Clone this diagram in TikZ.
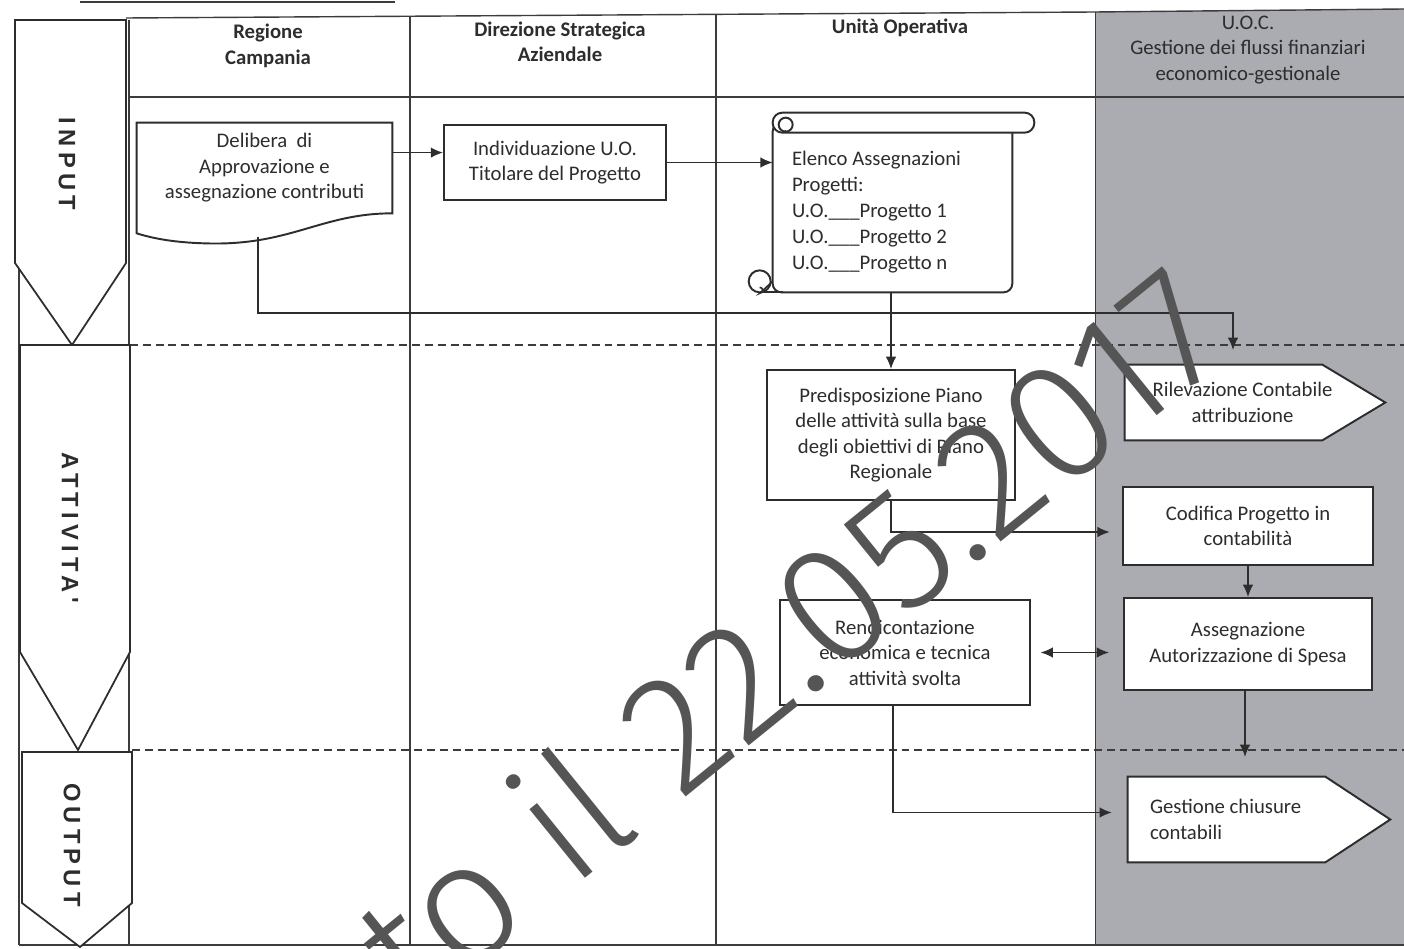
\documentclass[tikz,border=0pt]{standalone}
\usepackage{fontspec}
\setmainfont{Carlito}
\newfontfamily\lanefont[LetterSpace=22]{Liberation Sans}
\IfFontExistsTF{Fira Sans Light}
  {\newfontfamily\stampfont{Fira Sans Light}}
  {\newfontfamily\stampfont{Carlito}}
\usetikzlibrary{arrows.meta,calc}
\pgfdeclarelayer{back}
\pgfdeclarelayer{mid}
\pgfsetlayers{back,mid,main}

\definecolor{ink}{RGB}{45,45,45}
\definecolor{rulecol}{RGB}{60,60,60}
\definecolor{uocgray}{RGB}{170,172,177}
\definecolor{stamp}{RGB}{85,85,85}

\begin{document}
\begin{tikzpicture}[x=0.02cm, y=-0.02cm,
  txt/.style={font=\fontsize{11.8}{14.5}\selectfont, text=ink, align=center},
  hdr/.style={txt, font=\fontsize{11.8}{14.5}\selectfont\bfseries},
  hdrreg/.style={txt},
  box/.style={txt, draw=ink, line width=1.1pt, fill=white, inner sep=2pt},
  plain/.style={txt, inner sep=2pt},
  outline/.style={draw=ink, line width=1.1pt, fill=white},
  grid/.style={draw=rulecol, line width=0.8pt},
  lane/.style={draw=ink, line width=1pt, fill=white},
  sep/.style={draw=rulecol, line width=1.2pt, dash pattern=on 4.5pt off 2.8pt},
  arr/.style={draw=ink, line width=0.9pt, -{Latex[length=7pt,width=6pt]}},
  arrboth/.style={draw=ink, line width=0.9pt, {Latex[length=7pt,width=6pt]}-{Latex[length=7pt,width=6pt]}},
  lanelbl/.style={font={\lanefont\fontsize{13.5}{15}\selectfont\bfseries}, text=ink, rotate=-90, inner sep=0pt}
]
\useasboundingbox (0,0) rectangle (1404,949);
\clip (0,0) rectangle (1404,949);

% ---------- swimlane grid ----------
\begin{pgfonlayer}{back}
  \fill[white] (0,0) rectangle (1404,949);
  \fill[uocgray] (1095,12) -- (1404,9) -- (1404,945) -- (1095,945) -- cycle;
  \draw[line width=1.6pt, rulecol] (80,2) -- (395,2);
  \draw[grid] (126,18) -- (1095,12) -- (1404,9);
  \draw[grid] (128,97) -- (1404,97);
  \draw[grid] (19,945) -- (1404,945);
  \draw[grid] (19,20) -- (19,945);
  \draw[grid] (129,20) -- (129,945);
  \draw[grid] (410,17) -- (410,945);
  \draw[grid] (716,15) -- (716,945);
  \draw[grid, line width=0.5pt] (1095,12) -- (1095,945);
  \draw[sep] (130,345) -- (1404,345);
  \draw[sep] (132,750) -- (1404,750);
  % phase arrows on the left
  \draw[lane] (15,20) -- (126,20) -- (126,263) -- (72,345) -- (15,263) -- cycle;
  \draw[lane] (20,345) -- (130,345) -- (130,652) -- (78,750) -- (20,652) -- cycle;
  \draw[lane] (22,752) -- (132,752) -- (132,903) -- (80,947) -- (22,903) -- cycle;
\end{pgfonlayer}

% ---------- phase labels ----------
\node[lanelbl] (lin)  at (67,164) {INPUT};
\node[lanelbl] (latt) at (70,528) {ATTIVITA'};
\node[lanelbl] (lout) at (72,845) {OUTPUT};

% ---------- column headers ----------
\node[hdr] (hreg) at (268,46) {Regione\\Campania};
\node[hdr] (hdir) at (560,42) {Direzione Strategica\\Aziendale};
\node[hdr] (huo)  at (900,28) {Unità Operativa};
\node[hdrreg] (huoc) at (1248,50) {U.O.C.\\Gestione dei flussi finanziari\\economico-gestionale};

% ---------- process nodes ----------
\node[plain, minimum width=5.1cm, minimum height=1.8cm] (deli) at (264.5,168)
  {Delibera \ di\\Approvazione e\\assegnazione contributi};
\node[box, minimum width=4.44cm, minimum height=1.5cm] (indiv) at (555,162.5)
  {Individuazione U.O.\\Titolare del Progetto};
\node[plain, align=flush left, text width=4.02cm, inner xsep=0.38cm, minimum height=3.18cm,
      font=\fontsize{11.8}{14.8}\selectfont] (scroll) at (892.5,212.5)
  {Elenco Assegnazioni\\Progetti:\\U.O.\_\_\_Progetto 1\\U.O.\_\_\_Progetto 2\\U.O.\_\_\_Progetto n};
\node[box, minimum width=4.96cm, minimum height=2.6cm] (pred) at (891,435)
  {Predisposizione Piano\\delle attività sulla base\\degli obiettivi di Piano\\Regionale};
\node[plain, minimum width=4.7cm, minimum height=1.5cm] (rilev) at (1242.5,402.5)
  {Rilevazione Contabile\\attribuzione};
\node[box, minimum width=5.0cm, minimum height=1.56cm] (codif) at (1248,526)
  {Codifica Progetto in\\contabilità};
\node[box, minimum width=4.96cm, minimum height=1.84cm] (assegn) at (1248,644)
  {Assegnazione\\Autorizzazione di Spesa};
\node[box, minimum width=5.0cm, minimum height=2.1cm] (rend) at (905,652.5)
  {Rendicontazione\\economica e tecnica\\attività svolta};
\node[plain, align=flush left, text width=3.76cm, inner xsep=0.44cm, minimum height=1.7cm] (gest) at (1244,819.5)
  {Gestione chiusure\\contabili};

% ---------- outlined shapes ----------
\begin{pgfonlayer}{mid}
  % document symbol with wavy base
  \draw[outline] (deli.north west) -- (deli.north east) -- (deli.south east)
    .. controls ($(deli.south east)+(-72,0)$) and ($(deli.south east)+(-102,33)$) .. ($(deli.south west)+(68,30)$)
    .. controls ($(deli.south west)+(33,29)$) and ($(deli.south west)+(13,24)$) .. ($(deli.south west)+(0,20)$)
    -- cycle;
  % scroll: body, top roll and curls
  \draw[outline, rounded corners=5pt] ($(scroll.north west)+(0,-10)$) rectangle (scroll.south east);
  \draw[outline] ($(scroll.south west)+(-13,0)$) -- ($(scroll.south west)+(10,0)$);
  \draw[outline] ($(scroll.south west)+(-13,-11)$) circle[radius=0.22cm];
  \draw[draw=ink, line width=0.9pt] ($(scroll.south west)+(-13,-5)$) arc[start angle=90, end angle=-90, radius=0.06cm]
    -- ($(scroll.south west)+(0,-11)$);
  \draw[outline, rounded corners=5.5pt] ($(scroll.north west)+(0,-20)$) rectangle ($(scroll.north east)+(22,0)$);
  \draw[outline] ($(scroll.north west)+(13,-8)$) circle[radius=0.14cm];
  \draw[draw=ink, line width=0.9pt] ($(scroll.north west)+(13,-3)$) -- ($(scroll.north west)+(13,0)$);
  % pointed tags
  \draw[outline] (rilev.north west) -- ($(rilev.north east)+(-38,0)$) -- ($(rilev.east)+(25,0)$)
    -- ($(rilev.south east)+(-38,0)$) -- (rilev.south west) -- cycle;
  \draw[outline] (gest.north west) -- ($(gest.north east)+(-35,0)$) -- ($(gest.east)+(30,0)$)
    -- ($(gest.south east)+(-35,0)$) -- (gest.south west) -- cycle;
\end{pgfonlayer}

% ---------- connectors ----------
\coordinate (d1) at ($(deli.north east)!0.33!(deli.south east)$);
\coordinate (delw) at (258,237);
\coordinate (rtop) at (1233,350);
\coordinate (gtop) at (1245,757);

\draw[arr] (d1) -- (d1 -| indiv.west);
\draw[arr] (indiv.east) -- (indiv.east -| scroll.west);
\draw[arr] (delw) |- ($(rtop)+(0,-37)$) -- (rtop);
\draw[arr] (scroll.south -| pred.north) -- (pred.north);
\draw[arr, shorten >=7pt] (pred.south) |- ($(codif.west)+(0,6)$);
\draw[arr] (codif.south -| assegn.north) -- (assegn.north);
\draw[arrboth, shorten <=5.5pt, shorten >=8pt] (rend.east) -- (rend.east -| assegn.west);
\draw[arr] (assegn.south -| gtop) -- (gtop);
\draw[arr, shorten >=9pt] ($(rend.south)+(-12,0)$) |- ($(gest.west)+(0,-7)$);

% ---------- publication stamp ----------
\node[font={\stampfont\fontsize{96}{96}\selectfont}, text=stamp, rotate=39, anchor=base east,
      inner sep=0pt] (stampmark) at (1238,350) {Pubblicato il 22.05.2017};
\end{tikzpicture}
\end{document}
